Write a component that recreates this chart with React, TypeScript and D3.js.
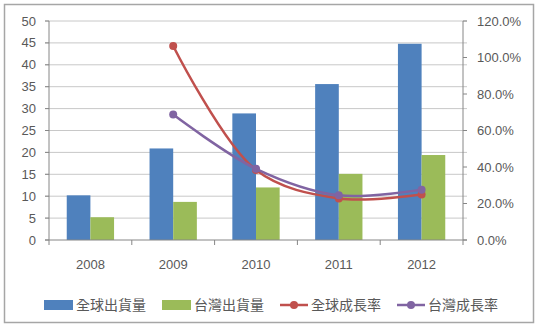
import React from 'react';
import * as d3 from 'd3';

const years = ['2008', '2009', '2010', '2011', '2012'];
const globalShip = [10.2, 20.9, 28.9, 35.6, 44.8];
const taiwanShip = [5.2, 8.7, 12.0, 15.1, 19.4];
const globalGrowth = [null, 1.063, 0.383, 0.228, 0.249];
const taiwanGrowth = [null, 0.687, 0.39, 0.245, 0.276];
const leftTicks = [0, 5, 10, 15, 20, 25, 30, 35, 40, 45, 50];
const rightTicks = [0, 0.2, 0.4, 0.6, 0.8, 1.0, 1.2];

export default function App() {
  const width = 541;
  const height = 326;
  const plot = { left: 49, right: 463, top: 21, bottom: 240 };

  const x = d3.scaleBand().domain(years).range([plot.left, plot.right]);
  const inner = d3.scaleBand().domain(['g', 't']).range([0, x.bandwidth() * 2 / 3.5]);
  const offset = (x.bandwidth() - x.bandwidth() * 2 / 3.5) / 2;
  const yL = d3.scaleLinear().domain([0, 50]).range([plot.bottom, plot.top]);
  const yR = d3.scaleLinear().domain([0, 1.2]).range([plot.bottom, plot.top]);

  const cx = (d: string) => (x(d) as number) + x.bandwidth() / 2;
  const line = d3.line<[string, number | null]>()
    .defined(d => d[1] !== null)
    .x(d => cx(d[0]))
    .y(d => yR(d[1] as number))
    .curve(d3.curveCatmullRom.alpha(0.5));

  const lines = [
    { name: '全球成長率', values: globalGrowth, color: '#C0504D' },
    { name: '台灣成長率', values: taiwanGrowth, color: '#8064A2' },
  ];
  const bars = [
    { key: 'g', name: '全球出貨量', values: globalShip, color: '#4F81BD' },
    { key: 't', name: '台灣出貨量', values: taiwanShip, color: '#9BBB59' },
  ];

  const axisColor = '#868686';
  const gridColor = '#C8C8C8';
  const textColor = '#595959';
  const font = '"Liberation Sans", "Open Sans", sans-serif';
  const cjk = '"Noto Sans CJK TC", sans-serif';

  return (
    <div style={{ position: 'absolute', left: 0, top: 0 }}>
      <svg width={width} height={height} style={{ display: 'block' }}>
        <rect x={0} y={0} width={width} height={height} fill="#fff" />
        <rect x={4.5} y={4.5} width={529} height={318} fill="#fff" stroke="#A6A6A6" strokeWidth={1.5} />

        {/* gridlines */}
        {leftTicks.filter(t => t > 0).map(t => (
          <line key={'g' + t} x1={plot.left - 4} x2={plot.right + 4} y1={yL(t)} y2={yL(t)} stroke={gridColor} strokeWidth={1} />
        ))}

        {/* bars */}
        {bars.map(s => s.values.map((v, i) => (
          <rect
            key={s.key + i}
            x={(x(years[i]) as number) + offset + (inner(s.key) as number)}
            y={yL(v)}
            width={inner.bandwidth()}
            height={plot.bottom - yL(v)}
            fill={s.color}
          />
        )))}

        {/* axes */}
        <line x1={plot.left} x2={plot.left} y1={plot.top} y2={plot.bottom} stroke={axisColor} />
        <line x1={plot.right} x2={plot.right} y1={plot.top} y2={plot.bottom} stroke={axisColor} />
        <line x1={plot.left - 4} x2={plot.right + 4} y1={plot.bottom} y2={plot.bottom} stroke={axisColor} />
        {years.concat(['end']).map((d, i) => {
          const xx = plot.left + i * x.step();
          return <line key={'xt' + i} x1={xx} x2={xx} y1={plot.bottom} y2={plot.bottom + 5} stroke={axisColor} />;
        })}
        {leftTicks.map(t => (
          <g key={'lt' + t}>
            <line x1={plot.left - 4} x2={plot.left} y1={yL(t)} y2={yL(t)} stroke={axisColor} />
            <text x={36} y={yL(t)} dy="0.35em" textAnchor="end" fontSize={13} fontFamily={font} fill={textColor}>{t}</text>
          </g>
        ))}
        {rightTicks.map(t => (
          <g key={'rt' + t}>
            <line x1={plot.right} x2={plot.right + 4} y1={yR(t)} y2={yR(t)} stroke={axisColor} />
            <text x={477} y={yR(t)} dy="0.35em" textAnchor="start" fontSize={13} fontFamily={font} fill={textColor}>{(t * 100).toFixed(1) + '%'}</text>
          </g>
        ))}
        {years.map(d => (
          <text key={'xl' + d} x={cx(d)} y={264} dy="0.35em" textAnchor="middle" fontSize={13} fontFamily={font} fill={textColor}>{d}</text>
        ))}

        {/* growth lines */}
        {lines.map(s => {
          const pts = years.map((d, i) => [d, s.values[i]] as [string, number | null]);
          return (
            <g key={s.name}>
              <path d={line(pts) || ''} fill="none" stroke={s.color} strokeWidth={2.5} />
              {pts.filter(p => p[1] !== null).map(p => (
                <circle key={p[0]} cx={cx(p[0])} cy={yR(p[1] as number)} r={4} fill={s.color} />
              ))}
            </g>
          );
        })}

        {/* legend */}
        {bars.map((s, i) => {
          const lx = [44, 162][i];
          return (
            <g key={'lg' + s.key}>
              <rect x={lx} y={300} width={29} height={10} fill={s.color} />
              <text x={lx + 32} y={305} dy="0.35em" fontSize={14} fontFamily={cjk} fill={textColor}>{s.name}</text>
            </g>
          );
        })}
        {lines.map((s, i) => {
          const lx = [280, 397][i];
          return (
            <g key={'ll' + s.name}>
              <line x1={lx} x2={lx + 28} y1={305} y2={305} stroke={s.color} strokeWidth={2.5} />
              <circle cx={lx + 14} cy={305} r={4} fill={s.color} />
              <text x={lx + 31} y={305} dy="0.35em" fontSize={14} fontFamily={cjk} fill={textColor}>{s.name}</text>
            </g>
          );
        })}
      </svg>
    </div>
  );
}
